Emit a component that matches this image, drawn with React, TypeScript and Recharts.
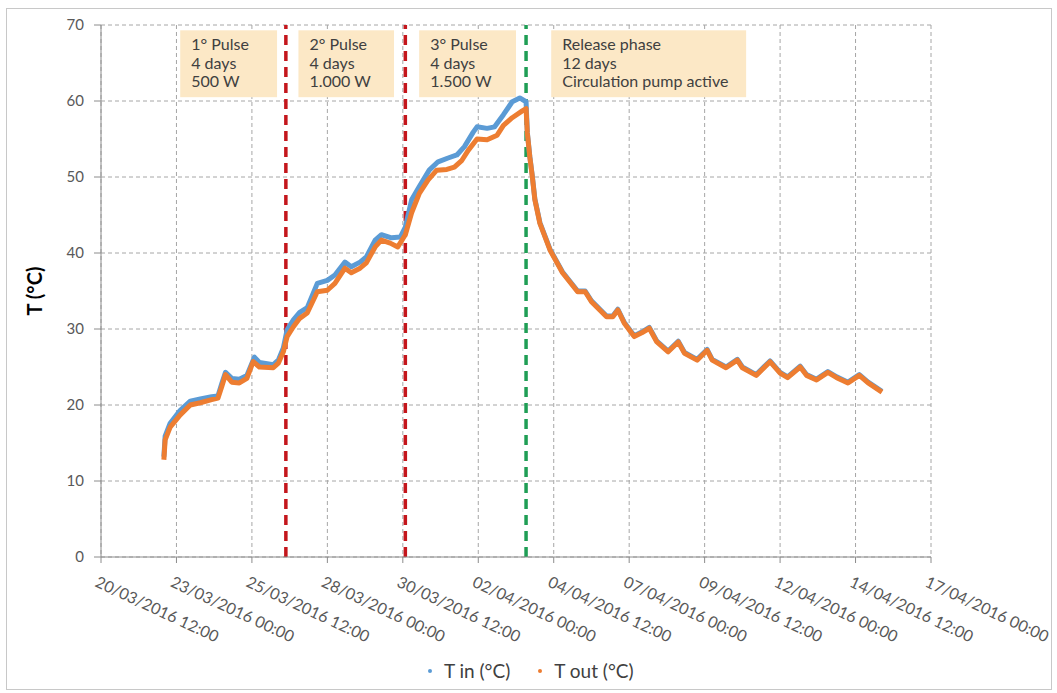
import {
  LineChart,
  Line,
  XAxis,
  YAxis,
  CartesianGrid,
  ReferenceLine,
  ReferenceArea,
} from "recharts";

// x values are hours since 20/03/2016 12:00
const tickHours = [0, 60, 120, 180, 240, 300, 360, 420, 480, 540, 600, 660];
const tickLabels = [
  "20/03/2016 12:00",
  "23/03/2016 00:00",
  "25/03/2016 12:00",
  "28/03/2016 00:00",
  "30/03/2016 12:00",
  "02/04/2016 00:00",
  "04/04/2016 12:00",
  "07/04/2016 00:00",
  "09/04/2016 12:00",
  "12/04/2016 00:00",
  "14/04/2016 12:00",
  "17/04/2016 00:00",
];
const yTicks = [0, 10, 20, 30, 40, 50, 60, 70];

const tInHours = [
  50, 51, 55, 63, 71, 79, 88, 93, 96, 99, 104, 110, 116, 122, 126, 137, 141,
  145, 148, 153, 158, 164, 172, 180, 186, 194, 199, 206, 211, 218, 223, 231,
  238, 242, 247, 253, 261, 268, 276, 283, 289, 296, 299, 307, 313, 320, 327,
  333, 338, 339, 341, 343, 345, 349, 357, 367, 379, 385, 390, 402, 407, 411,
  416, 424, 430, 436, 442, 451, 459, 464, 474, 482, 486, 497, 506, 510, 521,
  532, 540, 546, 556, 561, 569, 578, 585, 594, 603, 610, 621,
];
const tInValues = [
  13.2, 15.9, 17.6, 19.3, 20.5, 20.8, 21.1, 21.2, 22.8, 24.3, 23.5, 23.4, 23.9,
  26.3, 25.6, 25.3, 25.9, 27.5, 29.9, 31.2, 32.2, 32.8, 36.0, 36.4, 37.1, 38.8,
  38.2, 38.8, 39.5, 41.7, 42.4, 42.0, 42.1, 43.4, 47.0, 48.7, 50.9, 52.0, 52.5,
  52.9, 54.0, 55.9, 56.6, 56.4, 56.6, 58.2, 59.9, 60.4, 59.9, 55.9, 52.7, 50.1,
  47.1, 44.0, 40.5, 37.5, 35.0, 35.0, 33.7, 31.7, 31.7, 32.6, 30.9, 29.1, 29.6,
  30.2, 28.4, 27.1, 28.4, 26.9, 26.0, 27.3, 26.0, 25.0, 26.0, 25.0, 24.0, 25.8,
  24.3, 23.7, 25.1, 24.0, 23.4, 24.4, 23.7, 23.0, 24.0, 23.0, 21.8,
];

const tOutHours = [
  50, 51, 55, 63, 71, 79, 88, 93, 96, 99, 104, 110, 116, 121, 126, 137, 141,
  145, 148, 153, 158, 164, 172, 180, 186, 194, 199, 206, 211, 218, 223, 230,
  236, 242, 247, 253, 260, 267, 275, 281, 287, 292, 299, 307, 315, 320, 327,
  335, 338, 339, 341, 343, 345, 349, 357, 367, 379, 385, 390, 402, 407, 411,
  416, 424, 430, 436, 442, 451, 459, 464, 474, 482, 486, 497, 506, 510, 521,
  532, 540, 546, 556, 561, 569, 578, 585, 594, 603, 610, 621,
];
const tOutValues = [
  12.8, 15.4, 17.1, 18.7, 20.0, 20.3, 20.7, 20.9, 22.4, 24.0, 23.0, 22.9, 23.5,
  25.7, 25.0, 24.9, 25.5, 27.0, 29.0, 30.3, 31.4, 32.1, 34.9, 35.1, 36.0, 38.0,
  37.4, 38.0, 38.7, 40.8, 41.7, 41.3, 40.8, 42.4, 45.3, 47.8, 49.6, 50.9, 51.0,
  51.3, 52.2, 53.5, 55.0, 54.9, 55.5, 56.8, 57.8, 58.7, 59.0, 55.8, 52.6, 50.0,
  47.0, 43.9, 40.4, 37.4, 34.9, 34.9, 33.6, 31.6, 31.6, 32.5, 30.8, 29.0, 29.5,
  30.1, 28.3, 27.0, 28.3, 26.8, 25.9, 27.2, 25.9, 24.9, 25.9, 24.9, 23.9, 25.7,
  24.2, 23.6, 25.0, 23.9, 23.3, 24.3, 23.6, 22.9, 23.9, 22.9, 21.7,
];

// end of 1st and 2nd pulse, start of release phase (hours)
const pulseEnds = [147, 242];
const releaseStart = 338;

const phaseBoxes = [
  { x1: 63, x2: 140, lines: ["1° Pulse", "4 days", "500 W"] },
  { x1: 157, x2: 233, lines: ["2° Pulse", "4 days", "1.000 W"] },
  { x1: 253, x2: 330, lines: ["3° Pulse", "4 days", "1.500 W"] },
  {
    x1: 358,
    x2: 513,
    lines: ["Release phase", "12 days", "Circulation pump active"],
  },
];

const tIn = tInHours.map((h, i) => ({ h, t: tInValues[i] }));
const tOut = tOutHours.map((h, i) => ({ h, t: tOutValues[i] }));

const FONT = "Lato, 'Open Sans', sans-serif";

const DateTick = ({ x, y, payload }: any) => {
  const label = tickLabels[tickHours.indexOf(payload.value)];
  const tx = x - 7;
  const ty = y + 21;
  return (
    <text
      x={tx}
      y={ty}
      transform={`rotate(25 ${tx} ${ty})`}
      textAnchor="start"
      fill="#595959"
      fontSize={16}
      fontFamily={FONT}
    >
      {label}
    </text>
  );
};

const boxShape = (lines: string[]) => (props: any) => {
  const { x, y, width, height } = props;
  return (
    <g>
      <rect x={x} y={y} width={width} height={height} fill="#fce8c6" />
      <text fill="#404040" fontSize={16} fontFamily={FONT}>
        {lines.map((l, i) => (
          <tspan key={i} x={x + 11} y={y + 20 + i * 18.5}>
            {l}
          </tspan>
        ))}
      </text>
    </g>
  );
};

export default function App() {
  return (
    <div
      style={{
        position: "absolute",
        left: 0,
        top: 0,
        width: 1057,
        height: 693,
        background: "#fff",
        fontFamily: FONT,
      }}
    >
      <div
        style={{
          position: "absolute",
          left: 6,
          top: 8,
          width: 1044,
          height: 680,
          border: "1px solid #c8c8c8",
        }}
      />
      <LineChart
        width={1057}
        height={693}
        margin={{ top: 25, right: 126, bottom: 56, left: 6 }}
      >
        <CartesianGrid stroke="#a6a6a6" strokeDasharray="4 3" />
        <XAxis
          type="number"
          dataKey="h"
          domain={[0, 660]}
          ticks={tickHours}
          interval={0}
          height={80}
          stroke="#8c8c8c"
          tickSize={6}
          tick={<DateTick />}
        />
        <YAxis
          type="number"
          domain={[0, 70]}
          ticks={yTicks}
          width={95}
          stroke="#8c8c8c"
          tickSize={7}
          tickMargin={10}
          tick={{ fill: "#595959", fontSize: 15, fontFamily: FONT }}
          label={{
            value: "T (°C)",
            angle: -90,
            position: "insideLeft",
            offset: 29,
            style: {
              textAnchor: "middle",
              fontWeight: "bold",
              fontSize: 20,
              fill: "#000",
              fontFamily: FONT,
            },
          }}
        />
        {phaseBoxes.map((b, i) => (
          <ReferenceArea
            key={i}
            x1={b.x1}
            x2={b.x2}
            y1={60.5}
            y2={69.3}
            shape={boxShape(b.lines)}
          />
        ))}
        {pulseEnds.map((h) => (
          <ReferenceLine
            key={h}
            x={h}
            stroke="#c4161c"
            strokeWidth={3.5}
            strokeDasharray="10 6"
          />
        ))}
        <ReferenceLine
          x={releaseStart}
          stroke="#1f9e55"
          strokeWidth={3.5}
          strokeDasharray="10 6"
        />
        <Line
          data={tIn}
          dataKey="t"
          name="T in (°C)"
          stroke="#5b9bd5"
          strokeWidth={5}
          strokeLinejoin="round"
          dot={false}
          isAnimationActive={false}
        />
        <Line
          data={tOut}
          dataKey="t"
          name="T out (°C)"
          stroke="#ed7d31"
          strokeWidth={5}
          strokeLinejoin="round"
          dot={false}
          isAnimationActive={false}
        />
      </LineChart>
      <div
        style={{
          position: "absolute",
          top: 659,
          left: 428,
          fontSize: 19,
          color: "#404040",
          display: "flex",
          alignItems: "center",
          whiteSpace: "nowrap",
        }}
      >
        <span style={{ display: "flex", alignItems: "center" }}>
          <span
            style={{
              width: 4,
              height: 4,
              borderRadius: 2,
              background: "#5b9bd5",
              marginRight: 12,
            }}
          />
          T in (°C)
        </span>
        <span style={{ display: "flex", alignItems: "center", marginLeft: 28 }}>
          <span
            style={{
              width: 4,
              height: 4,
              borderRadius: 2,
              background: "#ed7d31",
              marginRight: 12,
            }}
          />
          T out (°C)
        </span>
      </div>
    </div>
  );
}
